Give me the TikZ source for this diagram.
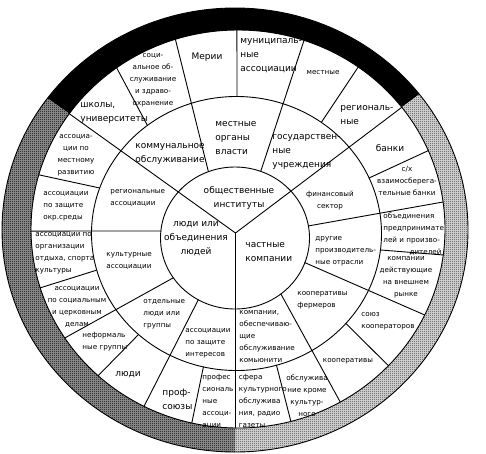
\documentclass[tikz,border=0pt]{standalone}
\usepackage{fontspec}
\setmainfont{DejaVu Sans}
\usetikzlibrary{patterns}
\pgfdeclarepatternformonly{stipple}{\pgfqpoint{0pt}{0pt}}{\pgfqpoint{2pt}{2pt}}{\pgfqpoint{2pt}{2pt}}{%
  \pgfpathrectangle{\pgfqpoint{0pt}{0pt}}{\pgfqpoint{1pt}{1pt}}\pgfusepath{fill}}
\pgfdeclarepatternformonly{weave}{\pgfqpoint{0pt}{0pt}}{\pgfqpoint{2pt}{2pt}}{\pgfqpoint{2pt}{2pt}}{%
  \pgfpathrectangle{\pgfqpoint{0pt}{0pt}}{\pgfqpoint{1pt}{1pt}}%
  \pgfpathrectangle{\pgfqpoint{1pt}{1pt}}{\pgfqpoint{1pt}{1pt}}\pgfusepath{fill}}

\begin{document}
\begin{tikzpicture}[x=1pt,y=1pt,yscale=-1,line join=round,line cap=round,line width=0.9pt]
	\tikzset{sm/.style={font=\fontsize{7.2}{12}\selectfont,inner sep=0pt,align=left},
		bg/.style={font=\fontsize{9}{14}\selectfont,inner sep=0pt,align=left}}
	\useasboundingbox (0,0) rectangle (486,453);
	\foreach \n/\a in {1/-144.6,2/-125.9,3/-107.6,4/-90.3,5/-71.4,6/-54.5,7/-37.7,8/-23.2,9/-7.8,10/7.5,11/25.6,
		12/43.4,13/60.4,14/75.2,15/90.7,16/102.9,17/117,18/132.5,19/146.8,20/162.8,21/179.4,22/-164.2}
	\coordinate (r\n) at ([shift={(238,229)}]\a:207 and 199);
	\foreach \n/\a in {2/-127.9,4/-89.8,6/-54.2,8/-23.9,10/6.9,12/41,14/74,16/103.2,18/132.5,20/164.5,22/-160.6}
	\coordinate (m\n) at ([shift={(236.5,233.5)}]\a:145 and 137);
	\foreach \n/\a in {3/-110.9,5/-69.8,9/-9.8,11/20.3,13/52,17/119.5,19/145.9,21/-174.3}
	\coordinate (i\n) at ([shift={(235,238)}]\a:74.5 and 71);
	\foreach \n/\a in {1/-143.6,7/-37.7,15/90}
	\coordinate (o\n) at ([shift={(235,230)}]\a:233 and 222);
	\coordinate (J) at (235.5,233);
	\fill[black] (o1) arc[start angle=-143.6,end angle=-37.7,x radius=233,y radius=222]
		-- (r7) arc[start angle=-37.7,end angle=-144.6,x radius=207,y radius=199] -- cycle;
	\fill[black!20,postaction={pattern=stipple}] (o7) arc[start angle=-37.7,end angle=90,x radius=233,y radius=222]
		-- (r15) arc[start angle=90.7,end angle=-37.7,x radius=207,y radius=199] -- cycle;
	\fill[black!40,postaction={pattern=weave}] (o15) arc[start angle=90,end angle=216.4,x radius=233,y radius=222]
		-- (r1) arc[start angle=215.4,end angle=90.7,x radius=207,y radius=199] -- cycle;
	\draw (235,230) ellipse [x radius=233,y radius=222];
	\draw (238,229) ellipse [x radius=207,y radius=199];
	\draw (236.5,233.5) ellipse [x radius=145,y radius=137];
	\draw (235,238) ellipse [x radius=74.5,y radius=71];
	\foreach \n in {1,7,15} \draw (J) -- (r\n);
	\foreach \n in {3,5,9,11,13,17,19,21} \draw (i\n) -- (r\n);
	\foreach \n in {2,4,6,8,10,12,14,16,18,20,22} \draw (m\n) -- (r\n);
	\node[bg] (obshch) at (239,197.5) [align=center] {общественные\\институты};
	\node[bg] (chast) at (245,252.5) [anchor=west] {частные\\компании};
	\node[bg] (lyudi) at (196,239) [align=center] {люди или\\объединения\\людей};
	\node[bg] (komm) at (135,153.5) [anchor=west] {коммунальное\\обслуживание};
	\node[bg] (organy) at (215,138) [anchor=west] {местные\\органы\\власти};
	\node[bg] (gosud) at (272,152) [anchor=west] {государствен-\\ные\\учреждения};
	\node[bg] (merii) at (207,57) {Мерии};
	\node[bg] (shkoly) at (80,112.5) [anchor=west] {школы,\\университеты};
	\node[bg] (munic) at (240,56) [anchor=west] {муниципаль-\\ные\\ассоциации};
	\node[bg] (region) at (340,115) [anchor=west] {региональ-\\ные};
	\node[bg] (banki) at (390,148) {банки};
	\node[bg] (lyudi2) at (128,375) {люди};
	\node[bg] (profs) at (162,399.5) [anchor=west] {проф-\\союзы};
	\node[sm] (socobs) at (153,80.5) [align=center] {соци-\\альное об-\\служивание\\и здраво-\\охранение};
	\node[sm] (mestn) at (323,73) {местные};
	\node[sm] (finans) at (330,200.5) [align=center] {финансовый\\сектор};
	\node[sm] (skh) at (407,181) [align=center] {с/х\\взаимосберега-\\тельные банки};
	\node[sm] (obied) at (383,228.5) [anchor=west] {объединения\\предпринимате\\лей и произво-};
	\node[sm] (obied2) at (442,252) [anchor=east] {дителей};
	\node[sm] (vnesh) at (406,277) [align=center] {компании\\действующие\\на внешнем\\рынке};
	\node[sm] (drugie) at (315,251) [anchor=west] {другие\\производитель-\\ные отрасли};
	\node[sm] (koopf) at (297,300.5) [anchor=west] {кооперативы\\фермеров};
	\node[sm] (soyuz) at (361,321) [anchor=west] {союз\\кооператоров};
	\node[sm] (koop) at (348,361) {кооперативы};
	\node[sm] (obsl) at (307,395.5) [align=center] {обслужива\\ние кроме\\культур-\\ного};
	\node[sm] (komyun) at (239,337) [anchor=west] {компании,\\обеспечиваю-\\щие\\обслуживание\\комьюнити};
	\node[sm] (sfera) at (238.5,400.5) [anchor=west] {сфера\\культурного\\обслужива\\ния, радио\\газеты};
	\node[sm] (regass) at (110,197.5) [anchor=west] {региональные\\ассоциации};
	\node[sm] (kultass) at (106,261) [anchor=west] {культурные\\ассоциации};
	\node[sm] (mestrazv) at (76,155) [align=center] {ассоциа-\\ции по\\местному\\развитию};
	\node[sm] (okr) at (43,206) [anchor=west] {ассоциации\\по защите\\окр.среды};
	\node[sm] (otdykh) at (35,253.5) [anchor=west] {ассоциации по\\организации\\отдыха, спорта\\культуры};
	\node[sm] (cerk) at (77,307) [align=center] {ассоциации\\по социальным\\и церковным\\делам};
	\node[sm] (neform) at (82,341.5) [anchor=west] {неформаль\\ные группы};
	\node[sm] (profass) at (202,401) [anchor=west] {профес\\сиональ\\ные\\ассоци-\\ации};
	\node[sm] (otdel) at (143,314) [anchor=west] {отдельные\\люди или\\группы};
	\node[sm] (zashch) at (185,343.5) [anchor=west] {ассоциации\\по защите\\интересов};
\end{tikzpicture}
\end{document}
